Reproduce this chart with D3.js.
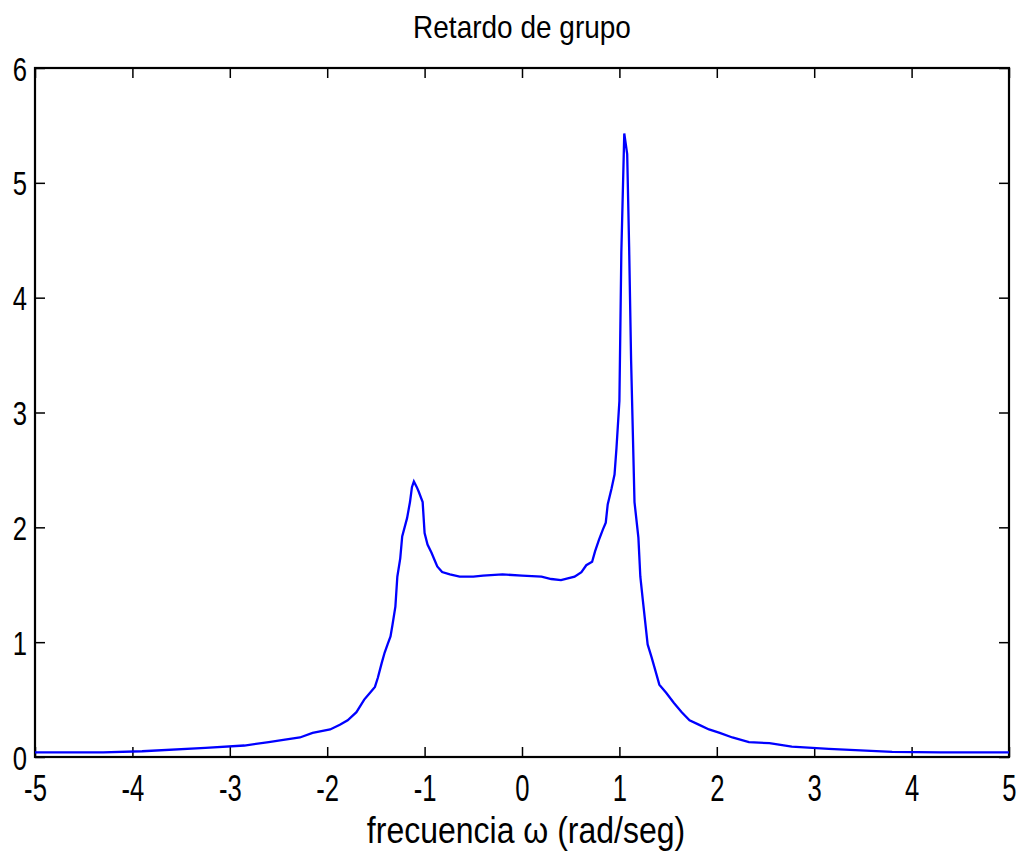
<!DOCTYPE html>
<html>
<head>
<meta charset="utf-8">
<script src="https://cdn.jsdelivr.net/npm/d3@7"></script>
<style>
  body { margin: 0; background: #ffffff; }
  text { font-family: "Liberation Sans", Arial, sans-serif; fill: #000000; }
</style>
</head>
<body>
<script>
// frecuencia (rad/seg)
var freq = [
  -5, -4.3, -3.9, -3.25, -2.85, -2.6, -2.45, -2.28, -2.15, -1.97,
  -1.87, -1.79, -1.70, -1.62, -1.56, -1.51, -1.48, -1.44, -1.41, -1.38,
  -1.35, -1.33, -1.30, -1.28, -1.25, -1.23, -1.18, -1.15, -1.13, -1.11,
  -1.08, -1.06, -1.02, -1.00, -0.97, -0.93, -0.90, -0.87, -0.82, -0.74,
  -0.64, -0.50, -0.40, -0.20, 0.00, 0.20, 0.30, 0.40, 0.54, 0.61,
  0.66, 0.72, 0.75, 0.79, 0.83, 0.86, 0.88, 0.92, 0.95, 0.97,
  1.00, 1.02, 1.05, 1.08, 1.10, 1.12, 1.155, 1.195, 1.215, 1.24,
  1.29, 1.33, 1.36, 1.41, 1.48, 1.56, 1.64, 1.72, 1.82, 1.92,
  2.03, 2.16, 2.33, 2.54, 2.77, 3.15, 3.80, 4.30, 5.00
];
// retardo de grupo
var delay = [
  0.04, 0.04, 0.05, 0.08, 0.10, 0.13, 0.15, 0.17, 0.21, 0.24,
  0.28, 0.32, 0.39, 0.50, 0.56, 0.61, 0.69, 0.82, 0.91, 0.98,
  1.05, 1.15, 1.31, 1.57, 1.73, 1.92, 2.08, 2.22, 2.35, 2.40,
  2.35, 2.31, 2.22, 1.95, 1.85, 1.78, 1.72, 1.66, 1.61, 1.59,
  1.57, 1.57, 1.58, 1.59, 1.58, 1.57, 1.55, 1.54, 1.57, 1.61,
  1.67, 1.70, 1.79, 1.89, 1.98, 2.04, 2.20, 2.34, 2.46, 2.69,
  3.10, 4.40, 5.43, 5.25, 4.44, 3.46, 2.22, 1.91, 1.57, 1.37,
  0.98, 0.87, 0.78, 0.63, 0.56, 0.47, 0.39, 0.32, 0.28, 0.24,
  0.21, 0.17, 0.13, 0.12, 0.09, 0.07, 0.045, 0.04, 0.04
];
var xTicks = [-5, -4, -3, -2, -1, 0, 1, 2, 3, 4, 5];
var yTicks = [0, 1, 2, 3, 4, 5, 6];

var margin = {"top": 68, "right": 15, "bottom": 100, "left": 35};
var svg = d3.select("body").append("svg")
            .attr("width", 1024)
            .attr("height", 857);

var width = 1024 - margin.left - margin.right;
var height = 857 - margin.top - margin.bottom;

var xScale = d3.scaleLinear().domain([-5, 5]).range([0, width]);
var yScale = d3.scaleLinear().domain([0, 6]).range([height, 0]);

var g = svg.append("g")
           .attr("transform", "translate(" + margin.left + "," + margin.top + ")");

var sy = 1.15; // letras un poco estiradas en vertical
var fmt = function(d) { return String(d); }; // guion normal, sin decimales

// ejes: ticks hacia dentro
var xBottom = g.append("g")
               .attr("transform", "translate(0," + height + ")")
               .call(d3.axisBottom(xScale).tickValues(xTicks).tickFormat(fmt).tickSizeInner(-10).tickSizeOuter(0));
xBottom.selectAll("text")
       .attr("y", 0).attr("dy", 0)
       .style("font-size", "27px")
       .attr("transform", "translate(0,44) scale(0.95,1.35)");

var yLeft = g.append("g")
             .call(d3.axisLeft(yScale).tickValues(yTicks).tickFormat(fmt).tickSizeInner(-10).tickSizeOuter(0));
yLeft.selectAll("text")
     .attr("x", 0).attr("dy", 0)
     .style("font-size", "27px")
     .attr("transform", "translate(-8,12) scale(0.95,1.25)");

g.append("g")
 .call(d3.axisTop(xScale).tickValues(xTicks).tickSizeInner(-10).tickSizeOuter(0).tickFormat(""));
g.append("g")
 .attr("transform", "translate(" + width + ",0)")
 .call(d3.axisRight(yScale).tickValues(yTicks).tickSizeInner(-10).tickSizeOuter(0).tickFormat(""));

g.selectAll(".tick line").attr("stroke", "#000").attr("stroke-width", 1.5);
g.selectAll(".domain").remove();

// caja
g.append("rect")
 .attr("x", 0).attr("y", 0)
 .attr("width", width).attr("height", height)
 .attr("fill", "none")
 .attr("stroke", "#000")
 .attr("stroke-width", 2.2);

// curva
var pts = freq.map(function(d, i) { return [d, delay[i]]; });
var line = d3.line()
             .x(function(d) { return xScale(d[0]); })
             .y(function(d) { return yScale(d[1]); });

g.append("path")
 .datum(pts)
 .attr("d", line)
 .attr("fill", "none")
 .attr("stroke", "#0000ff")
 .attr("stroke-width", 2.3);

// titulo y etiqueta
svg.append("text")
   .attr("text-anchor", "middle")
   .style("font-size", "28px")
   .attr("transform", "translate(522,38) scale(1," + sy + ")")
   .text("Retardo de grupo");

svg.append("text")
   .attr("text-anchor", "middle")
   .style("font-size", "32px")
   .attr("transform", "translate(526,843) scale(1," + sy + ")")
   .text("frecuencia ω (rad/seg)");
</script>
</body>
</html>
